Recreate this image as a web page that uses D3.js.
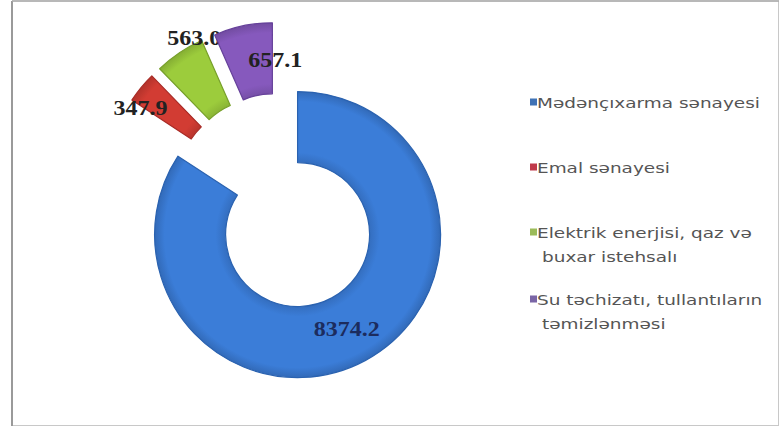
<!DOCTYPE html>
<html><head><meta charset="utf-8">
<script src="https://cdn.jsdelivr.net/npm/d3@7"></script>
<style>
html,body{margin:0;padding:0;background:#fff;}
svg{display:block;}
</style>
</head><body>
<svg id="chart" width="781" height="427"></svg>
<script>
// ---- data ----
const categories = [
  "Mədənçıxarma sənayesi",
  "Emal sənayesi",
  "Elektrik enerjisi, qaz və buxar istehsalı",
  "Su təchizatı, tullantıların təmizlənməsi"
];
const legendLines = [
  ["Mədənçıxarma sənayesi"],
  ["Emal sənayesi"],
  ["Elektrik enerjisi, qaz və", "buxar istehsalı"],
  ["Su təchizatı, tullantıların", "təmizlənməsi"]
];
const values = [8374.2, 347.9, 563.0, 657.1];
const valueLabels = ["8374.2", "347.9", "563.0", "657.1"];

// ---- style / layout ----
const colors = ["#3b7dd8", "#d23c33", "#9ccc3c", "#8659bd"];
const strokes = ["#2a62b0", "#a82a25", "#77a02a", "#66419a"];
const legendColors = ["#3f72b5", "#c0394a", "#9bbb59", "#7a65a6"];
const center = {x: 280, y: 202};
const explode = 37;
const rInner = 72, rOuter = 143;
const labelNudge = [[-2, 0], [-28, -2], [-5, -44], [25, 0]];

const svg = d3.select("#chart");

// border
svg.append("rect").attr("x", 12.5).attr("y", 1).attr("width", 766).attr("height", 424.5)
  .attr("fill", "#fff").attr("stroke", "#c8c8c8").attr("stroke-width", 1);
svg.append("line").attr("x1", 12).attr("x2", 12).attr("y1", 1).attr("y2", 426)
  .attr("stroke", "#9a9a9a").attr("stroke-width", 2);
svg.append("line").attr("x1", 12).attr("x2", 779).attr("y1", 1).attr("y2", 1)
  .attr("stroke", "#aaaaaa").attr("stroke-width", 1.5);

const pie = d3.pie().sort(null).value(d => d);
const arcs = pie(values);
const arc = d3.arc().innerRadius(rInner).outerRadius(rOuter);

const g = svg.append("g").attr("transform", `translate(${center.x},${center.y})`);

function offset(d) {
  const a = (d.startAngle + d.endAngle) / 2;
  return [Math.sin(a) * explode, -Math.cos(a) * explode];
}

const defs = svg.append("defs");
colors.forEach((c, i) => {
  const grad = defs.append("radialGradient").attr("id", "grad" + i)
    .attr("gradientUnits", "userSpaceOnUse").attr("cx", 0).attr("cy", 0).attr("r", rOuter);
  grad.append("stop").attr("offset", rInner / rOuter).attr("stop-color", d3.color(c).darker(0.35));
  grad.append("stop").attr("offset", (rInner + 10) / rOuter).attr("stop-color", c);
  grad.append("stop").attr("offset", (rOuter - 10) / rOuter).attr("stop-color", c);
  grad.append("stop").attr("offset", 1).attr("stop-color", d3.color(c).darker(0.45));
});

const slices = g.selectAll("g.slice").data(arcs).enter().append("g")
  .attr("class", "slice")
  .attr("transform", d => { const o = offset(d); return `translate(${o[0]},${o[1]})`; });

slices.append("path")
  .attr("d", arc)
  .attr("fill", (d, i) => `url(#grad${i})`)
  .attr("stroke", (d, i) => strokes[i])
  .attr("stroke-width", 1.2)
  .attr("stroke-linejoin", "round");

// value labels
slices.append("text")
  .attr("transform", (d, i) => {
    const c = arc.centroid(d);
    return `translate(${c[0] + labelNudge[i][0]},${c[1] + labelNudge[i][1]}) scale(1.2,1)`;
  })
  .attr("text-anchor", "middle")
  .attr("dominant-baseline", "central")
  .attr("font-family", "Liberation Serif, Times New Roman, serif")
  .attr("font-weight", "bold")
  .attr("font-size", 20)
  .attr("fill", (d, i) => i === 0 ? "#1c2c5e" : "#222")
  .text((d, i) => valueLabels[i]);

// legend
const legendY = [103, 168, 233, 300];
const legend = svg.append("g").attr("transform", "translate(530,0)");
const items = legend.selectAll("g.item").data(categories).enter().append("g")
  .attr("class", "item")
  .attr("transform", (d, i) => `translate(0,${legendY[i]})`);
items.append("rect").attr("x", 0).attr("y", -4.5).attr("width", 7).attr("height", 7)
  .attr("fill", (d, i) => legendColors[i]);
const texts = items.append("text")
  .attr("font-family", "DejaVu Sans, sans-serif")
  .attr("font-size", 14)
  .attr("fill", "#555");
texts.each(function(d, i) {
  const t = d3.select(this);
  legendLines[i].forEach((line, j) => {
    t.append("tspan").attr("x", j === 0 ? 7 : 12).attr("dy", j === 0 ? 5 : 24).text(line);
  });
});
// stretch legend text horizontally to match the reference width
const w0 = texts.nodes()[0].getComputedTextLength();
const sx = 223 / w0;
texts.attr("transform", `scale(${sx},1)`).attr("x", 0);
texts.selectAll("tspan").attr("x", function() { return (+d3.select(this).attr("x")) / sx; });
</script>
</body></html>
